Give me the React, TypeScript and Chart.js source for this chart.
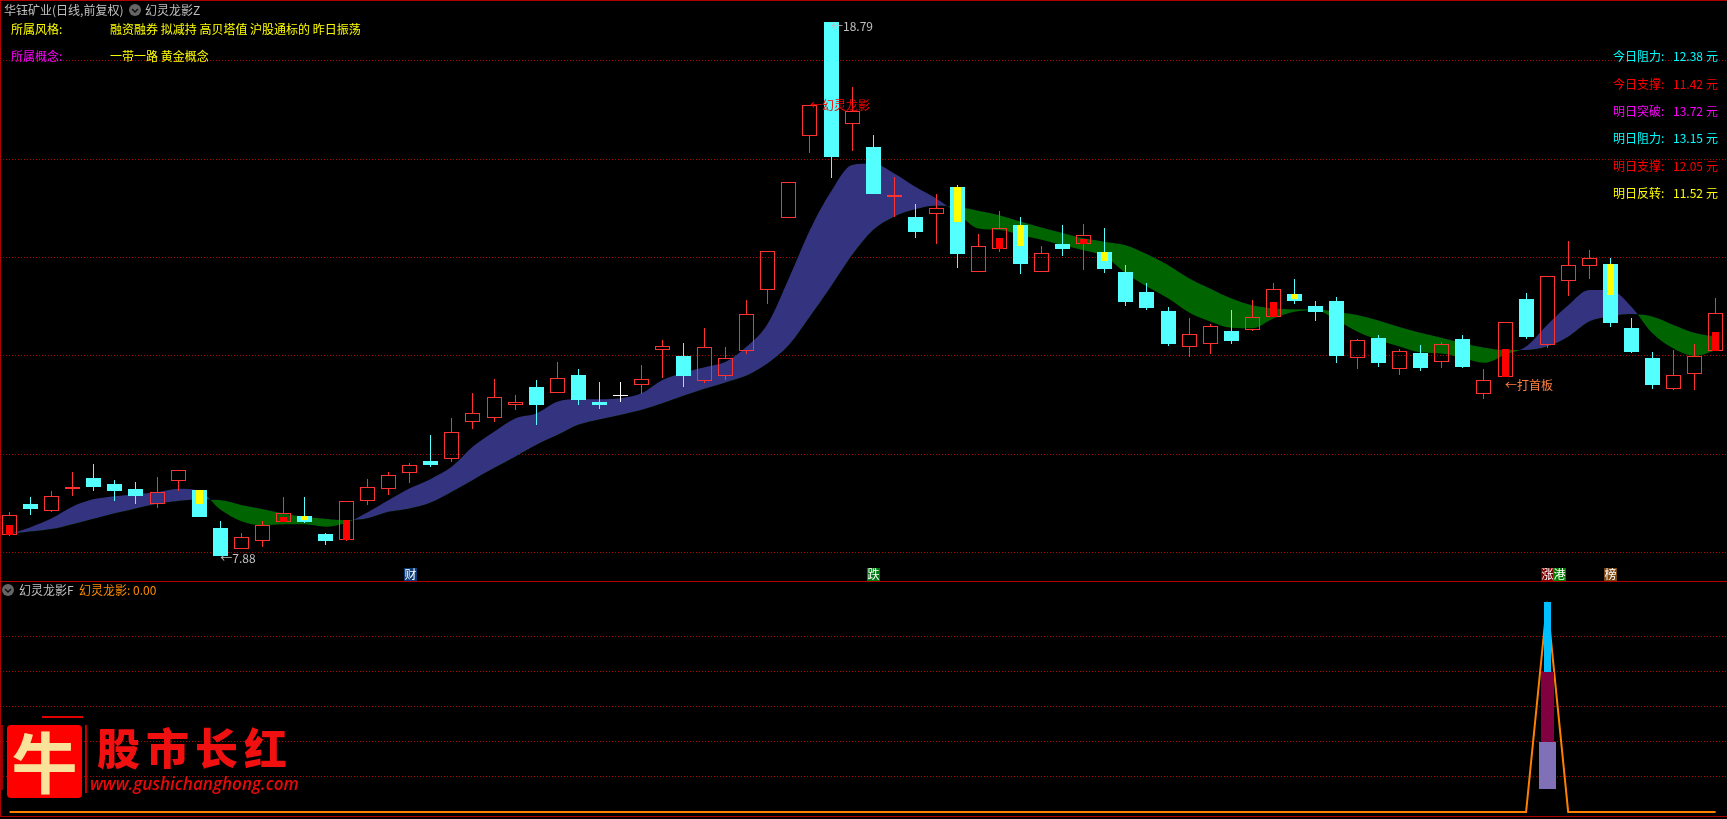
import React, { useEffect, useRef } from "react";
import { Chart, registerables } from "chart.js";

Chart.register(...registerables);

// ---- Main panel: daily candles (price, yuan) ----
const opens = [
  8.37, 8.99, 8.85, 9.29, 9.52, 9.40, 9.29, 9.00, 9.46, 9.27,
  8.50, 8.08, 8.24, 8.63, 8.75, 8.38, 8.26, 9.06, 9.30, 9.63,
  9.86, 9.91, 10.66, 10.74, 11.01, 11.37, 11.25, 11.61, 11.06, 11.20,
  11.40, 12.11, 12.00, 11.50, 11.60, 12.09, 13.33, 14.81, 16.46, 18.79,
  16.72, 16.25, 15.23, 14.82, 14.89, 15.43, 13.71, 14.18, 14.66, 13.71,
  14.27, 14.28, 14.11, 13.71, 13.30, 12.91, 12.19, 12.25, 12.51, 12.53,
  12.80, 13.26, 13.01, 13.12, 11.96, 12.36, 11.74, 12.06, 11.88, 12.34,
  11.23, 11.58, 13.16, 12.23, 13.53, 13.83, 13.87, 12.57, 11.96, 11.33,
  11.64, 12.09,
];
const closes = [
  8.76, 8.89, 9.15, 9.34, 9.34, 9.25, 9.15, 9.23, 9.69, 8.73,
  7.93, 8.31, 8.56, 8.80, 8.62, 8.24, 9.06, 9.33, 9.57, 9.78,
  9.78, 10.45, 10.83, 11.16, 11.06, 11.00, 11.56, 11.10, 11.00, 11.20,
  11.54, 12.21, 11.59, 12.19, 11.95, 12.85, 14.13, 15.53, 17.09, 16.05,
  16.97, 15.29, 15.27, 14.52, 15.00, 14.07, 14.23, 14.59, 13.87, 14.09,
  14.17, 14.45, 13.77, 13.10, 12.97, 12.24, 12.44, 12.60, 12.30, 12.80,
  13.35, 13.12, 12.89, 12.00, 12.32, 11.86, 12.09, 11.75, 12.24, 11.78,
  11.52, 12.68, 12.38, 13.62, 13.84, 13.98, 12.67, 12.08, 11.41, 11.61,
  11.99, 12.87,
];
const highs = [
  8.83, 9.13, 9.25, 9.64, 9.80, 9.47, 9.44, 9.54, 9.69, 9.27,
  8.64, 8.40, 8.64, 9.13, 9.13, 8.40, 9.06, 9.50, 9.64, 9.82,
  10.39, 10.74, 11.25, 11.53, 11.21, 11.51, 11.88, 11.73, 11.46, 11.47,
  11.82, 12.32, 12.26, 12.57, 12.18, 13.14, 14.13, 15.53, 17.09, 18.79,
  17.46, 16.49, 15.64, 15.09, 15.29, 15.47, 14.48, 14.95, 14.82, 14.23,
  14.66, 14.68, 14.60, 13.85, 13.48, 12.99, 12.77, 12.65, 12.93, 13.14,
  13.48, 13.56, 13.12, 13.20, 12.34, 12.43, 12.14, 12.22, 12.28, 12.43,
  11.73, 12.68, 13.28, 13.62, 14.34, 14.15, 13.99, 12.77, 12.08, 12.12,
  12.24, 13.18,
];
const lows = [
  8.35, 8.77, 8.83, 9.16, 9.25, 9.05, 8.99, 8.91, 9.25, 8.73,
  7.93, 8.08, 8.12, 8.63, 8.60, 8.16, 8.24, 8.97, 9.17, 9.42,
  9.75, 9.84, 10.51, 10.66, 10.90, 10.60, 11.25, 11.00, 10.92, 11.06,
  11.23, 11.55, 11.37, 11.44, 11.51, 12.03, 13.06, 14.81, 16.12, 15.62,
  16.17, 15.29, 14.82, 14.40, 14.27, 13.79, 13.71, 14.11, 13.67, 13.71,
  14.03, 13.75, 13.69, 13.01, 12.93, 12.20, 11.98, 12.04, 12.24, 12.51,
  12.80, 13.06, 12.71, 11.86, 11.73, 11.78, 11.61, 11.69, 11.75, 11.75,
  11.12, 11.58, 12.34, 12.16, 13.22, 13.56, 12.59, 12.06, 11.33, 11.31,
  11.31, 12.09,
];

// Inner markers on selected candles
const redFillIndex = [0, 13, 16, 47, 51, 60, 71, 81];
const redFillTop = [8.56, 8.72, 8.66, 14.40, 14.38, 13.10, 12.14, 12.49];
const yellowFillIndex = [9, 14, 45, 48, 52, 61, 76];
const yellowFillBottom = [9.00, 8.66, 14.72, 14.23, 13.93, 13.15, 13.24];

// Ribbon lines
const fastLine = [
  8.38, 8.52, 8.70, 8.94, 9.09, 9.15, 9.19, 9.23, 9.30, 9.26,
  8.88, 8.64, 8.56, 8.58, 8.58, 8.53, 8.61, 8.82, 9.07, 9.31,
  9.50, 9.75, 10.16, 10.46, 10.73, 10.83, 11.07, 11.12, 11.12, 11.14,
  11.24, 11.51, 11.66, 11.77, 11.88, 12.19, 12.66, 13.58, 14.56, 15.34,
  15.88, 15.91, 15.71, 15.44, 15.20, 14.90, 14.59, 14.56, 14.46, 14.36,
  14.25, 14.15, 14.02, 13.68, 13.41, 13.17, 12.88, 12.70, 12.57, 12.56,
  12.76, 12.90, 12.93, 12.73, 12.49, 12.32, 12.19, 12.07, 12.05, 11.95,
  11.86, 12.02, 12.19, 12.63, 13.03, 13.34, 13.34, 13.00, 12.46, 12.15,
  12.00, 12.11,
];
const slowLine = [
  8.38, 8.43, 8.48, 8.58, 8.69, 8.80, 8.90, 8.99, 9.05, 9.08,
  9.07, 8.97, 8.89, 8.80, 8.73, 8.69, 8.66, 8.70, 8.83, 8.90,
  9.02, 9.24, 9.48, 9.72, 9.95, 10.19, 10.39, 10.60, 10.71, 10.80,
  10.90, 11.04, 11.19, 11.33, 11.46, 11.60, 11.85, 12.22, 12.80, 13.41,
  14.05, 14.56, 14.83, 14.98, 15.05, 15.03, 14.95, 14.86, 14.73, 14.61,
  14.50, 14.39, 14.32, 14.25, 14.07, 13.85, 13.58, 13.37, 13.17, 13.03,
  12.97, 12.95, 12.95, 12.89, 12.83, 12.72, 12.59, 12.47, 12.37, 12.26,
  12.17, 12.12, 12.12, 12.19, 12.39, 12.70, 12.80, 12.85, 12.80, 12.63,
  12.47, 12.39,
];

const gridPrices = [18, 16, 14, 12, 10, 8];

// Text tied to candles
const noteIndex = [39, 10, 38, 71];
const notePrice = [18.70, 7.88, 17.10, 11.41];
const noteText = ["←18.79", "←7.88", "←幻灵龙影", "←打首板"];
const noteColor = ["#c0c0c0", "#c0c0c0", "#ff0000", "#ff8040"];

const tagIndex = [19, 41, 73, 73.58, 76];
const tagText = ["财", "跌", "涨", "港", "榜"];
const tagColor = ["#0c3c78", "#007a10", "#800000", "#008000", "#7a4510"];

// ---- Sub panel ----
const subValues = [
  0, 0, 0, 0, 0, 0, 0, 0, 0, 0,
  0, 0, 0, 0, 0, 0, 0, 0, 0, 0,
  0, 0, 0, 0, 0, 0, 0, 0, 0, 0,
  0, 0, 0, 0, 0, 0, 0, 0, 0, 0,
  0, 0, 0, 0, 0, 0, 0, 0, 0, 0,
  0, 0, 0, 0, 0, 0, 0, 0, 0, 0,
  0, 0, 0, 0, 0, 0, 0, 0, 0, 0,
  0, 0, 0, 120, 0, 0, 0, 0, 0, 0,
  0, 0,
];
const subGrid = [20, 40, 60, 80, 100];
const signalIndex = 73;
const purpleRange = [13, 40];
const maroonRange = [40, 80];
const skyRange = [80, 120];

// ---- Header texts ----
const styleTags = "融资融券 拟减持 高贝塔值 沪股通标的 昨日振荡";
const conceptTags = "一带一路 黄金概念";
const levelNames = ["今日阻力", "今日支撑", "明日突破", "明日阻力", "明日支撑", "明日反转"];
const levelValues = ["12.38", "11.42", "13.72", "13.15", "12.05", "11.52"];
const levelColors = ["#00ffff", "#ff0000", "#ff00ff", "#00ffff", "#ff0000", "#ffff00"];

const FONT = '"Noto Sans CJK SC", "Noto Sans", sans-serif';
const X_MIN = -0.456;
const X_MAX = 81.54;

const CYAN = "#54ffff";
const RED = "#ff3232";

const snapBars = {
  id: "snapBars",
  beforeDatasetsDraw(chart: any) {
    chart.getSortedVisibleDatasetMetas().forEach((meta: any) => {
      if (meta.type !== "bar") return;
      meta.data.forEach((el: any) => {
        const w = el.width;
        el.x = Math.round(el.x - w / 2) + w / 2;
        const t = Math.round(Math.min(el.y, el.base));
        const b = Math.round(Math.max(el.y, el.base));
        el.y = t;
        el.base = Math.max(b, t + 1);
      });
    });
  },
};

const mainLabels = {
  id: "mainLabels",
  afterDatasetsDraw(chart: any) {
    const { ctx, scales } = chart;
    ctx.save();
    ctx.textBaseline = "middle";
    ctx.font = `12px ${FONT}`;
    noteIndex.forEach((idx, k) => {
      ctx.textAlign = "left";
      ctx.fillStyle = noteColor[k];
      ctx.fillText(noteText[k], scales.x.getPixelForValue(idx), scales.y.getPixelForValue(notePrice[k]));
    });
    tagIndex.forEach((idx, k) => {
      const cx = Math.round(scales.x.getPixelForValue(idx));
      ctx.fillStyle = tagColor[k];
      ctx.fillRect(cx - 6, 568, 13, 13);
      ctx.fillStyle = "#ffffff";
      ctx.textAlign = "center";
      ctx.fillText(tagText[k], cx + 0.5, 574.5);
    });
    ctx.restore();
  },
};

const Chevron = ({ x, y }: { x: number; y: number }) => (
  <svg style={{ position: "absolute", left: x - 6, top: y - 6 }} width={12} height={12}>
    <circle cx={6} cy={6} r={6} fill="#666666" />
    <path d="M3 5 L6 8 L9 5" stroke="#101010" strokeWidth={1.5} fill="none" />
  </svg>
);

const Label = ({ x, y, color, children }: any) => (
  <div
    style={{
      position: "absolute",
      left: x,
      top: y - 8,
      height: 16,
      lineHeight: "16px",
      fontSize: 12,
      color,
      whiteSpace: "nowrap",
      fontFamily: FONT,
    }}
  >
    {children}
  </div>
);

export default function App() {
  const mainRef = useRef<HTMLCanvasElement>(null);
  const subRef = useRef<HTMLCanvasElement>(null);

  useEffect(() => {
    const idx = opens.map((_, i) => i);
    const isUp = (i: number) => closes[i] > opens[i];
    const isDown = (i: number) => closes[i] < opens[i];
    const isFlat = (i: number) => closes[i] === opens[i];
    const bodyTop = (i: number) => Math.max(opens[i], closes[i]);
    const bodyBot = (i: number) => Math.min(opens[i], closes[i]);

    const wicks = (sel: (i: number) => boolean, color: string, order: number) => ({
      type: "bar" as const,
      data: idx.filter(sel).flatMap((i) => {
        const out: any[] = [];
        if (highs[i] > bodyTop(i)) out.push({ x: i, y: [bodyTop(i), highs[i]] });
        if (lows[i] < bodyBot(i)) out.push({ x: i, y: [lows[i], bodyBot(i)] });
        return out;
      }),
      backgroundColor: color,
      barThickness: 1,
      grouped: false,
      inflateAmount: 0,
      borderWidth: 0,
      order,
    });

    const main = new Chart(mainRef.current!, {
      type: "bar",
      data: {
        datasets: [
          {
            type: "line",
            data: idx.map((i) => ({ x: i, y: fastLine[i] })),
            borderWidth: 0,
            pointRadius: 0,
            cubicInterpolationMode: "monotone",
            fill: { target: "+1", above: "#333380", below: "#006400" },
            order: 20,
          } as any,
          {
            type: "line",
            data: idx.map((i) => ({ x: i, y: slowLine[i] })),
            borderWidth: 0,
            pointRadius: 0,
            cubicInterpolationMode: "monotone",
            fill: false,
            order: 21,
          } as any,
          wicks(isUp, RED, 10),
          wicks(isDown, CYAN, 10),
          wicks(isFlat, "#ffffff", 10),
          {
            type: "bar",
            data: idx.filter(isUp).map((i) => ({ x: i, y: [opens[i], closes[i]] })),
            backgroundColor: "rgba(0,0,0,0)",
            borderColor: RED,
            borderWidth: 1,
            borderSkipped: false,
            barThickness: 15,
            grouped: false,
            inflateAmount: 0,
            order: 9,
          } as any,
          {
            type: "bar",
            data: idx.filter(isDown).map((i) => ({ x: i, y: [closes[i], opens[i]] })),
            backgroundColor: CYAN,
            barThickness: 15,
            grouped: false,
            inflateAmount: 0,
            borderWidth: 0,
            order: 8,
          } as any,
          {
            type: "bar",
            data: idx.filter(isFlat).map((i) => ({ x: i, y: [closes[i] - 0.01, closes[i] + 0.01] })),
            backgroundColor: "#ffffff",
            barThickness: 15,
            grouped: false,
            inflateAmount: 0,
            borderWidth: 0,
            order: 8,
          } as any,
          {
            type: "bar",
            data: redFillIndex.map((i, k) => ({ x: i, y: [opens[i], redFillTop[k]] })),
            backgroundColor: "#ff0000",
            barThickness: 7,
            grouped: false,
            inflateAmount: 0,
            borderWidth: 0,
            order: 7,
          } as any,
          {
            type: "bar",
            data: yellowFillIndex.map((i, k) => ({ x: i, y: [yellowFillBottom[k], opens[i]] })),
            backgroundColor: "#ffff00",
            barThickness: 7,
            grouped: false,
            inflateAmount: 0,
            borderWidth: 0,
            order: 7,
          } as any,
        ],
      },
      options: {
        animation: false,
        responsive: false,
        devicePixelRatio: 1,
        layout: { padding: 0 },
        plugins: { legend: { display: false }, tooltip: { enabled: false } },
        scales: {
          x: { type: "linear", offset: false, min: X_MIN, max: X_MAX, display: false },
          y: {
            type: "linear",
            min: 7.425,
            max: 19.234,
            afterBuildTicks: (axis: any) => {
              axis.ticks = gridPrices.map((value) => ({ value }));
            },
            ticks: { display: false },
            grid: { color: "#b00000", drawTicks: false, lineWidth: 1 },
            border: { display: false, dash: [1, 2] },
          },
        },
      } as any,
      plugins: [snapBars, mainLabels],
    });

    const subBar = (range: number[], color: string, width: number, order: number) => ({
      type: "bar" as const,
      data: [{ x: signalIndex, y: range }],
      backgroundColor: color,
      barThickness: width,
      grouped: false,
      inflateAmount: 0,
      borderWidth: 0,
      order,
    });

    const sub = new Chart(subRef.current!, {
      type: "bar",
      data: {
        datasets: [
          {
            type: "line",
            data: idx.map((i) => ({ x: i, y: subValues[i] })),
            borderColor: "#ff8000",
            borderWidth: 2,
            pointRadius: 0,
            fill: false,
            tension: 0,
            order: 10,
          } as any,
          subBar(purpleRange, "#8070b8", 17, 3) as any,
          subBar(maroonRange, "#800040", 13, 2) as any,
          subBar(skyRange, "#00bfff", 7, 1) as any,
        ],
      },
      options: {
        animation: false,
        responsive: false,
        devicePixelRatio: 1,
        layout: { padding: 0 },
        plugins: { legend: { display: false }, tooltip: { enabled: false } },
        scales: {
          x: { type: "linear", offset: false, min: X_MIN, max: X_MAX, display: false },
          y: {
            type: "linear",
            min: -4,
            max: 131.85,
            afterBuildTicks: (axis: any) => {
              axis.ticks = subGrid.map((value) => ({ value }));
            },
            ticks: { display: false },
            grid: { color: "#b00000", drawTicks: false, lineWidth: 1 },
            border: { display: false, dash: [1, 2] },
          },
        },
      } as any,
      plugins: [snapBars],
    });

    return () => {
      main.destroy();
      sub.destroy();
    };
  }, []);

  const lineRed = "#b00000";
  const levelY = [56, 83.5, 111, 138, 165.5, 192.5];
  return (
    <div style={{ position: "absolute", left: 0, top: 0, width: 1727, height: 819, background: "#000", overflow: "hidden" }}>
      <style>{`html,body{margin:0;padding:0;background:#000;overflow:hidden}`}</style>
      <canvas ref={mainRef} width={1727} height={581} style={{ position: "absolute", left: 0, top: 0, width: 1727, height: 581 }} />
      <canvas ref={subRef} width={1727} height={238} style={{ position: "absolute", left: 0, top: 581, width: 1727, height: 238 }} />

      {/* panel frame */}
      <div style={{ position: "absolute", left: 0, top: 0, width: 1727, height: 1, background: lineRed }} />
      <div style={{ position: "absolute", left: 0, top: 581, width: 1727, height: 1, background: lineRed }} />
      <div style={{ position: "absolute", left: 0, top: 816, width: 1727, height: 1, background: lineRed }} />
      <div style={{ position: "absolute", left: 0, top: 0, width: 1, height: 817, background: lineRed }} />

      {/* header */}
      <Label x={4} y={10} color="#c0c0c0">华钰矿业(日线,前复权)</Label>
      <Chevron x={135} y={10} />
      <Label x={145} y={10} color="#c0c0c0">幻灵龙影Z</Label>
      <Label x={11} y={29} color="#ffff00">所属风格:</Label>
      <Label x={110} y={29} color="#ffff00">{styleTags}</Label>
      <Label x={11} y={56} color="#ff00ff">所属概念:</Label>
      <Label x={110} y={56} color="#ffff00">{conceptTags}</Label>

      {levelNames.map((name, k) => (
        <React.Fragment key={name}>
          <Label x={1613} y={levelY[k]} color={levelColors[k]}>{`${name}:`}</Label>
          <Label x={1673} y={levelY[k]} color={levelColors[k]}>{levelValues[k]}</Label>
          <Label x={1706} y={levelY[k]} color={levelColors[k]}>元</Label>
        </React.Fragment>
      ))}

      {/* sub panel header */}
      <Chevron x={8} y={590} />
      <Label x={19} y={590} color="#c0c0c0">幻灵龙影F</Label>
      <Label x={79} y={590} color="#ff8c00">幻灵龙影: 0.00</Label>

      {/* watermark */}
      <div style={{ position: "absolute", left: 7, top: 725, width: 75, height: 73, background: "#ff0000", borderRadius: 4, overflow: "hidden" }}>
        <div
          style={{
            position: "absolute",
            left: 0,
            top: -3,
            width: 75,
            height: 75,
            lineHeight: "75px",
            textAlign: "center",
            fontFamily: FONT,
            fontWeight: 700,
            fontSize: 66,
            color: "#fbe29a",
          }}
        >
          牛
        </div>
      </div>
      <div style={{ position: "absolute", left: 42, top: 716, width: 41, height: 2, background: "#e00000" }} />
      <div style={{ position: "absolute", left: 85, top: 725, width: 2, height: 68, background: "#c00000" }} />
      <div style={{ position: "absolute", left: 1, top: 725, width: 2, height: 65, background: "#900000" }} />
      <div
        style={{
          position: "absolute",
          left: 97,
          top: 720,
          height: 52,
          lineHeight: "52px",
          fontFamily: FONT,
          fontWeight: 900,
          fontSize: 43,
          letterSpacing: 6,
          color: "#f01010",
          whiteSpace: "nowrap",
        }}
      >
        股市长红
      </div>
      <div
        style={{
          position: "absolute",
          left: 90,
          top: 773,
          height: 22,
          lineHeight: "22px",
          fontFamily: '"Open Sans", sans-serif',
          fontStyle: "italic",
          fontWeight: 600,
          fontSize: 17.1,
          color: "#e80808",
          whiteSpace: "nowrap",
        }}
      >
        www.gushichanghong.com
      </div>
    </div>
  );
}
